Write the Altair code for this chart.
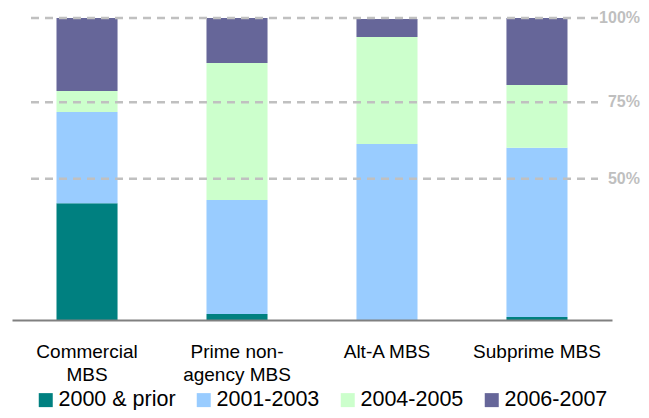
import altair as alt
import pandas as pd

categories = ["Commercial MBS", "Prime non-agency MBS", "Alt-A MBS", "Subprime MBS"]
series = ["2000 & prior", "2001-2003", "2004-2005", "2006-2007"]
v_2000_prior = [38.7, 2.0, 0.0, 1.0]
v_2001_2003 = [30.2, 37.7, 58.3, 56.0]
v_2004_2005 = [6.9, 45.4, 35.4, 20.8]
v_2006_2007 = [24.2, 14.9, 6.0, 22.2]
colors = ["#008080", "#99CCFF", "#CCFFCC", "#666699"]

grid_pos = [100, 72.1, 46.8]
grid_labels = ["100%", "75%", "50%"]

rows = []
for s_i, (s, vals) in enumerate(zip(series, [v_2000_prior, v_2001_2003, v_2004_2005, v_2006_2007])):
    for c, v in zip(categories, vals):
        rows.append({"category": c, "series": s, "value": v, "order": s_i})
df = pd.DataFrame(rows)
grid_df = pd.DataFrame({"pos": grid_pos, "label": grid_labels})

FONT = "Liberation Sans"
yscale = alt.Scale(domain=[0, 100], nice=False, zero=True)

label_expr = ("datum.value == 'Commercial MBS' ? ['Commercial', 'MBS'] : "
              "datum.value == 'Prime non-agency MBS' ? ['Prime non-', 'agency MBS'] : datum.value")

bars = alt.Chart(df).mark_bar().encode(
    x=alt.X("category:N", sort=categories,
            scale=alt.Scale(paddingInner=0.593, paddingOuter=0.2967),
            axis=alt.Axis(title=None, labelAngle=0, ticks=False, domainColor="#808080",
                          domainWidth=2, labelFont=FONT, labelFontSize=19, labelColor="#000000",
                          labelPadding=22, labelLineHeight=23, labelExpr=label_expr, zindex=1)),
    y=alt.Y("value:Q", stack="zero", scale=yscale, axis=None),
    color=alt.Color("series:N", scale=alt.Scale(domain=series, range=colors),
                    legend=alt.Legend(title=None, orient="none", legendX=23, legendY=371,
                                      direction="horizontal", columns=4, symbolType="square",
                                      symbolSize=196, symbolStrokeWidth=0, labelFont=FONT,
                                      labelFontSize=21.5, labelColor="#000000", labelOffset=2,
                                      columnPadding=17, labelLimit=0, padding=0)),
    order=alt.Order("order:Q"),
)

rules = alt.Chart(grid_df).mark_rule(strokeDash=[8, 6], strokeWidth=2.5, color="#C0C0C0").encode(
    y=alt.Y("pos:Q", scale=yscale, axis=None),
    x=alt.value(19), x2=alt.value(586),
)

texts = alt.Chart(grid_df).mark_text(align="right", baseline="middle", fontWeight="bold",
                                     fontSize=16, color="#BFBFBF", font=FONT).encode(
    y=alt.Y("pos:Q", scale=yscale, axis=None),
    x=alt.value(628),
    text="label:N",
)

chart = alt.layer(bars, rules, texts).properties(
    width=600, height=302,
    padding={"left": 4, "top": 10, "right": 29, "bottom": 90},
    autosize=alt.AutoSizeParams(type="none"),
    background="#ffffff",
).configure_view(stroke=None)

chart.save("out.html", embed_options={"renderer": "svg", "actions": False})
